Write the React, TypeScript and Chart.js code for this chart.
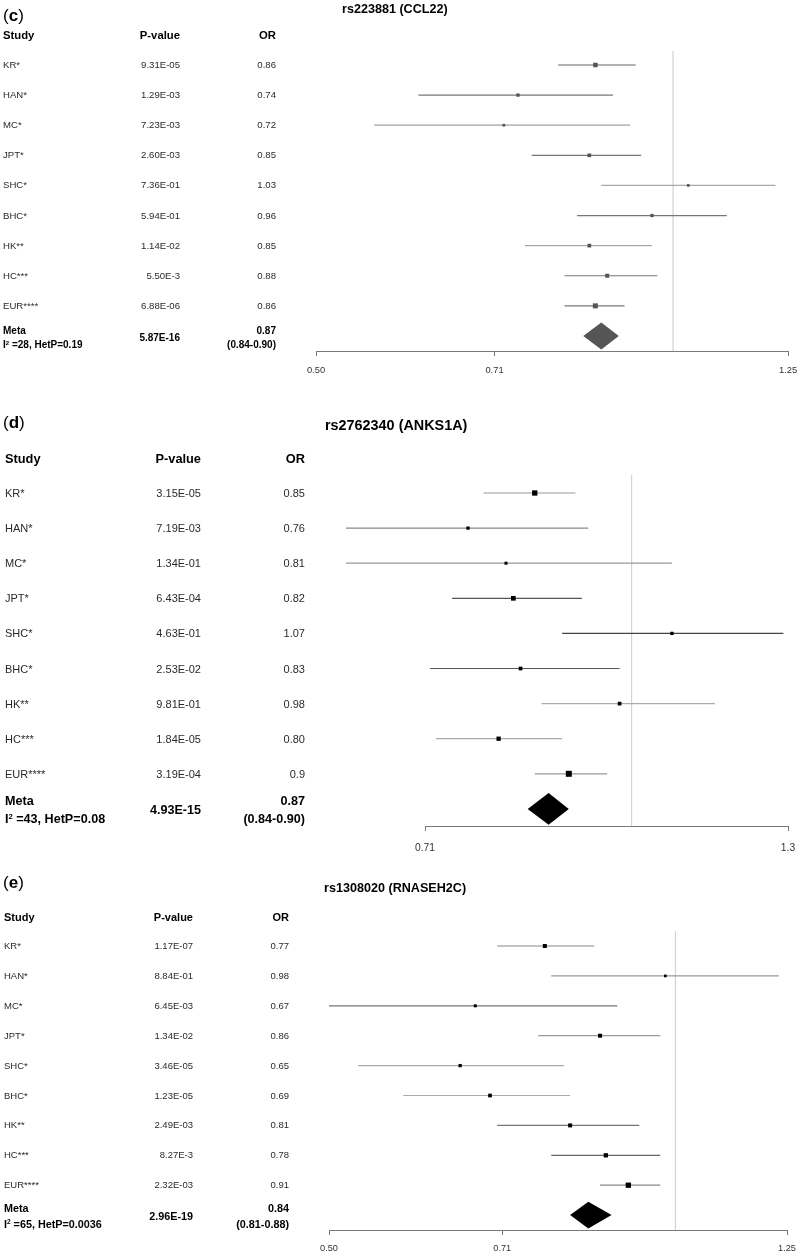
import React, { useEffect, useRef } from "react";
import { Chart, registerables } from "chart.js";

Chart.register(...registerables);

// ---------------- DATA ----------------
const studies = ["KR*", "HAN*", "MC*", "JPT*", "SHC*", "BHC*", "HK**", "HC***", "EUR****"];

// Panel (c) rs223881 (CCL22)
const cTitle = "rs223881 (CCL22)";
const cPValues = ["9.31E-05", "1.29E-03", "7.23E-03", "2.60E-03", "7.36E-01", "5.94E-01", "1.14E-02", "5.50E-3", "6.88E-06"];
const cOrText = ["0.86", "0.74", "0.72", "0.85", "1.03", "0.96", "0.85", "0.88", "0.86"];
const cOr = [0.86, 0.74, 0.72, 0.85, 1.03, 0.96, 0.85, 0.88, 0.86];
const cLower = [0.80, 0.61, 0.56, 0.76, 0.87, 0.83, 0.75, 0.81, 0.81];
const cUpper = [0.93, 0.89, 0.92, 0.94, 1.22, 1.11, 0.96, 0.97, 0.91];
const cMetaCI = [0.84, 0.87, 0.90];
const cMetaP = "5.87E-16";
const cMetaOr = "0.87";
const cMetaCIText = "(0.84-0.90)";
const cI2 = "28";
const cHetP = "0.19";
const cTicks = [0.5, 0.7071, 1.25];
const cTickLabels = ["0.50", "0.71", "1.25"];

// Panel (d) rs2762340 (ANKS1A)
const dTitle = "rs2762340 (ANKS1A)";
const dPValues = ["3.15E-05", "7.19E-03", "1.34E-01", "6.43E-04", "4.63E-01", "2.53E-02", "9.81E-01", "1.84E-05", "3.19E-04"];
const dOrText = ["0.85", "0.76", "0.81", "0.82", "1.07", "0.83", "0.98", "0.80", "0.9"];
const dOr = [0.85, 0.76, 0.81, 0.82, 1.07, 0.83, 0.98, 0.80, 0.90];
const dLower = [0.78, 0.60, 0.60, 0.74, 0.89, 0.713, 0.86, 0.72, 0.85];
const dUpper = [0.91, 0.93, 1.07, 0.92, 1.29, 0.98, 1.15, 0.89, 0.96];
const dMetaCI = [0.84, 0.87, 0.90];
const dMetaP = "4.93E-15";
const dMetaOr = "0.87";
const dMetaCIText = "(0.84-0.90)";
const dI2 = "43";
const dHetP = "0.08";
const dTicks = [0.7071, 1.3];
const dTickLabels = ["0.71", "1.3"];

// Panel (e) rs1308020 (RNASEH2C)
const eTitle = "rs1308020 (RNASEH2C)";
const ePValues = ["1.17E-07", "8.84E-01", "6.45E-03", "1.34E-02", "3.46E-05", "1.23E-05", "2.49E-03", "8.27E-3", "2.32E-03"];
const eOrText = ["0.77", "0.98", "0.67", "0.86", "0.65", "0.69", "0.81", "0.78", "0.91"];
const eOr = [0.77, 0.98, 0.67, 0.86, 0.65, 0.69, 0.81, 0.87, 0.91];
const eLower = [0.70, 0.78, 0.50, 0.76, 0.53, 0.58, 0.70, 0.78, 0.86];
const eUpper = [0.85, 1.23, 0.89, 0.97, 0.80, 0.81, 0.93, 0.97, 0.97];
const eMetaCI = [0.81, 0.84, 0.88];
const eMetaP = "2.96E-19";
const eMetaOr = "0.84";
const eMetaCIText = "(0.81-0.88)";
const eI2 = "65";
const eHetP = "0.0036";
const eTicks = [0.5, 0.7071, 1.25];
const eTickLabels = ["0.50", "0.71", "1.25"];

// ---------------- STYLE / LAYOUT ----------------
const FONT = '"Liberation Sans", Arial, Helvetica, sans-serif';
const PAGE_W = 800;

type Layout = {
  top: number; height: number; plotLeft: number; plotRight: number; plotTop: number; plotBottom: number;
  yMin: number; yMax: number; xMin: number; xMax: number; axisH: number; tickFont: number; tickPad: number;
  labelY: number; titleX: number; titleY: number; titleSize: number; headerY: number;
  studyX: number; pRight: number; orRight: number; rowFont: number; headFont: number;
  metaFont: number; metaY1: number; metaY2: number; metaPY: number;
};

type Style = { point: string; diamond: string; lines: string[]; boxes: number[] };

type Spec = {
  label: string; title: string; pValues: string[]; orText: string[]; or: number[];
  lower: number[]; upper: number[]; metaCI: number[]; metaP: string; metaOr: string; metaCIText: string;
  i2: string; hetP: string; ticks: number[]; tickLabels: string[]; layout: Layout; style: Style;
};

const specs: Spec[] = [
  {
    label: "c", title: cTitle, pValues: cPValues, orText: cOrText, or: cOr, lower: cLower, upper: cUpper,
    metaCI: cMetaCI, metaP: cMetaP, metaOr: cMetaOr, metaCIText: cMetaCIText, i2: cI2, hetP: cHetP,
    ticks: cTicks, tickLabels: cTickLabels,
    layout: {
      top: 0, height: 380, plotLeft: 316, plotRight: 788, plotTop: 51, plotBottom: 351,
      yMin: -0.465, yMax: 9.5, xMin: 0.5, xMax: 1.25, axisH: 26, tickFont: 9.4, tickPad: 9,
      labelY: 14.5, titleX: 342, titleY: 8.5, titleSize: 12.6, headerY: 36,
      studyX: 3, pRight: 180, orRight: 276, rowFont: 9.6, headFont: 11.3,
      metaFont: 10, metaY1: 331, metaY2: 345, metaPY: 338,
    },
    style: {
      point: "#555555", diamond: "#555555",
      lines: ["#666", "#777", "#a0a0a0", "#777", "#a8a8a8", "#777", "#a8a8a8", "#777", "#777"],
      boxes: [4.5, 3.3, 2.7, 3.7, 2.7, 3.3, 3.7, 4, 5],
    },
  },
  {
    label: "d", title: dTitle, pValues: dPValues, orText: dOrText, or: dOr, lower: dLower, upper: dUpper,
    metaCI: dMetaCI, metaP: dMetaP, metaOr: dMetaOr, metaCIText: dMetaCIText, i2: dI2, hetP: dHetP,
    ticks: dTicks, tickLabels: dTickLabels,
    layout: {
      top: 380, height: 478, plotLeft: 346, plotRight: 788, plotTop: 475, plotBottom: 826,
      yMin: -0.513, yMax: 9.487, xMin: 0.6193, xMax: 1.3, axisH: 28, tickFont: 10.3, tickPad: 11,
      labelY: 422, titleX: 325, titleY: 425, titleSize: 14.4, headerY: 459,
      studyX: 5, pRight: 201, orRight: 305, rowFont: 11, headFont: 12.8,
      metaFont: 12.6, metaY1: 801, metaY2: 819, metaPY: 810,
    },
    style: {
      point: "#000000", diamond: "#000000",
      lines: ["#999", "#888", "#999", "#555", "#444", "#555", "#aaa", "#aaa", "#999"],
      boxes: [5.3, 3.3, 3, 4.7, 3.3, 3.7, 3.7, 4.3, 6],
    },
  },
  {
    label: "e", title: eTitle, pValues: ePValues, orText: eOrText, or: eOr, lower: eLower, upper: eUpper,
    metaCI: eMetaCI, metaP: eMetaP, metaOr: eMetaOr, metaCIText: eMetaCIText, i2: eI2, hetP: eHetP,
    ticks: eTicks, tickLabels: eTickLabels,
    layout: {
      top: 858, height: 398, plotLeft: 329, plotRight: 787, plotTop: 931, plotBottom: 1230,
      yMin: -0.502, yMax: 9.498, xMin: 0.5, xMax: 1.25, axisH: 26, tickFont: 9.2, tickPad: 8,
      labelY: 881.5, titleX: 324, titleY: 888, titleSize: 12.6, headerY: 917,
      studyX: 4, pRight: 193, orRight: 289, rowFont: 9.5, headFont: 11,
      metaFont: 10.8, metaY1: 1208, metaY2: 1224, metaPY: 1216,
    },
    style: {
      point: "#000000", diamond: "#000000",
      lines: ["#888", "#999", "#777", "#999", "#aaa", "#aaa", "#777", "#666", "#888"],
      boxes: [4, 2.7, 3, 4, 3.3, 3.7, 4, 4.3, 5.3],
    },
  },
];

const axisLinePlugin = {
  id: "axisLine",
  afterDraw(chart: any) {
    const s = chart.scales.x;
    const t = s.ticks;
    if (!t || !t.length) return;
    const x0 = Math.round(s.getPixelForValue(t[0].value)) + 0.5;
    const x1 = Math.round(s.getPixelForValue(t[t.length - 1].value)) + 0.5;
    const y = Math.round(s.top) + 0.5;
    const ctx = chart.ctx;
    ctx.save();
    ctx.strokeStyle = "#7a7a7a";
    ctx.lineWidth = 1;
    ctx.beginPath();
    ctx.moveTo(x0, y);
    ctx.lineTo(x1, y);
    ctx.stroke();
    ctx.restore();
  },
};

function ForestChart({ spec }: { spec: Spec }) {
  const ref = useRef<HTMLCanvasElement | null>(null);
  const L = spec.layout;
  useEffect(() => {
    if (!ref.current) return;
    const metaRow = spec.or.length;
    const dh = 0.45;
    const [mLo, mMid, mHi] = spec.metaCI;
    const datasets: any[] = [];
    datasets.push({
      data: spec.or.map((v, i) => ({ x: v, y: i })),
      showLine: false,
      pointStyle: "rect",
      pointRadius: spec.style.boxes.map((b) => b / Math.SQRT2),
      pointHoverRadius: spec.style.boxes.map((b) => b / Math.SQRT2),
      pointBackgroundColor: spec.style.point,
      pointBorderWidth: 0,
      borderWidth: 0,
      order: 0,
    });
    datasets.push({
      data: [
        { x: mLo, y: metaRow },
        { x: mMid, y: metaRow - dh },
        { x: mHi, y: metaRow },
        { x: mMid, y: metaRow + dh },
        { x: mLo, y: metaRow },
      ],
      fill: "shape",
      backgroundColor: spec.style.diamond,
      borderColor: "rgba(0,0,0,0)",
      borderWidth: 1,
      pointRadius: 0,
      tension: 0,
      order: 1,
    });
    spec.lower.forEach((lo, i) => {
      datasets.push({
        data: [
          { x: lo, y: i },
          { x: spec.upper[i], y: i },
        ],
        borderColor: spec.style.lines[i],
        borderWidth: 1.2,
        pointRadius: 0,
        fill: false,
        order: 2,
      });
    });
    datasets.push({
      data: [
        { x: 1, y: L.yMin },
        { x: 1, y: L.yMax },
      ],
      borderColor: "#d2d2d2",
      borderWidth: 1.2,
      pointRadius: 0,
      fill: false,
      order: 3,
    });

    const padding = {
      left: L.plotLeft,
      right: PAGE_W - L.plotRight,
      top: L.plotTop - L.top,
      bottom: L.top + L.height - L.plotBottom - L.axisH,
    };
    const options: any = {
      animation: false,
      responsive: false,
      devicePixelRatio: 1,
      events: [],
      layout: { padding },
      plugins: {
        legend: { display: false },
        tooltip: { enabled: false },
        title: { display: false },
      },
      scales: {
        x: {
          type: "logarithmic",
          min: L.xMin,
          max: L.xMax,
          bounds: "data",
          afterBuildTicks: (s: any) => {
            s.ticks = spec.ticks.map((v) => ({ value: v }));
          },
          afterFit: (s: any) => {
            s.height = L.axisH;
            s.paddingLeft = 0;
            s.paddingRight = 0;
          },
          border: { display: false },
          grid: {
            display: true,
            drawOnChartArea: false,
            drawTicks: true,
            tickLength: 5,
            tickColor: "#7a7a7a",
            tickWidth: 1,
          },
          ticks: {
            autoSkip: false,
            maxRotation: 0,
            minRotation: 0,
            padding: L.tickPad,
            color: "#333333",
            font: { family: FONT, size: L.tickFont },
            callback: (_v: any, i: number) => spec.tickLabels[i],
          },
        },
        y: {
          type: "linear",
          display: false,
          min: L.yMin,
          max: L.yMax,
          reverse: true,
        },
      },
    };

    const chart = new Chart(ref.current, {
      type: "line",
      data: { datasets },
      options,
      plugins: [axisLinePlugin],
    });

    // make the plot area land exactly where the layout asks for it
    for (let k = 0; k < 4; k++) {
      const sx: any = chart.scales.x;
      const sy: any = chart.scales.y;
      const dl = sx.getPixelForValue(L.xMin) - L.plotLeft;
      const dr = sx.getPixelForValue(L.xMax) - L.plotRight;
      const dt = sy.getPixelForValue(L.yMin) - (L.plotTop - L.top);
      const db = sy.getPixelForValue(L.yMax) - (L.plotBottom - L.top);
      if (Math.abs(dl) < 0.3 && Math.abs(dr) < 0.3 && Math.abs(dt) < 0.3 && Math.abs(db) < 0.3) break;
      padding.left -= dl;
      padding.right += dr;
      padding.top -= dt;
      padding.bottom += db;
      chart.update();
    }
    return () => chart.destroy();
  }, [spec]);

  return (
    <canvas
      ref={ref}
      width={PAGE_W}
      height={L.height}
      style={{ position: "absolute", left: 0, top: L.top, width: PAGE_W, height: L.height }}
    />
  );
}

function Txt(props: {
  x: number; y: number; size: number; bold?: boolean; right?: boolean; color?: string; children: any;
}) {
  const { x, y, size, bold, right, color, children } = props;
  const style: any = {
    position: "absolute",
    top: y,
    transform: "translateY(-50%)",
    fontFamily: FONT,
    fontSize: size,
    fontWeight: bold ? "bold" : "normal",
    lineHeight: 1,
    whiteSpace: "nowrap",
    color: color || (bold ? "#000" : "#2a2a2a"),
  };
  if (right) {
    style.right = PAGE_W - x;
    style.textAlign = "right";
  } else {
    style.left = x;
  }
  return <div style={style}>{children}</div>;
}

function PanelText({ spec }: { spec: Spec }) {
  const L = spec.layout;
  const rowY = (i: number) => L.plotTop + ((i - L.yMin) / (L.yMax - L.yMin)) * (L.plotBottom - L.plotTop);
  const sup = { fontSize: "0.6em", position: "relative" as const, top: "-0.55em" };
  return (
    <>
      <Txt x={3} y={L.labelY} size={17} color="#000">
        (<b>{spec.label}</b>)
      </Txt>
      <Txt x={L.titleX} y={L.titleY} size={L.titleSize} bold>
        {spec.title}
      </Txt>
      <Txt x={L.studyX} y={L.headerY} size={L.headFont} bold>
        Study
      </Txt>
      <Txt x={L.pRight} y={L.headerY} size={L.headFont} bold right>
        P-value
      </Txt>
      <Txt x={L.orRight} y={L.headerY} size={L.headFont} bold right>
        OR
      </Txt>
      {studies.map((s, i) => (
        <React.Fragment key={s}>
          <Txt x={L.studyX} y={rowY(i)} size={L.rowFont}>
            {s}
          </Txt>
          <Txt x={L.pRight} y={rowY(i)} size={L.rowFont} right>
            {spec.pValues[i]}
          </Txt>
          <Txt x={L.orRight} y={rowY(i)} size={L.rowFont} right>
            {spec.orText[i]}
          </Txt>
        </React.Fragment>
      ))}
      <Txt x={L.studyX} y={L.metaY1} size={L.metaFont} bold>
        Meta
      </Txt>
      <Txt x={L.studyX} y={L.metaY2} size={L.metaFont} bold>
        I<span style={sup}>2</span> ={spec.i2}, HetP={spec.hetP}
      </Txt>
      <Txt x={L.pRight} y={L.metaPY} size={L.metaFont} bold right>
        {spec.metaP}
      </Txt>
      <Txt x={L.orRight} y={L.metaY1} size={L.metaFont} bold right>
        {spec.metaOr}
      </Txt>
      <Txt x={L.orRight} y={L.metaY2} size={L.metaFont} bold right>
        {spec.metaCIText}
      </Txt>
    </>
  );
}

export default function App() {
  return (
    <div
      style={{
        position: "absolute",
        left: 0,
        top: 0,
        width: PAGE_W,
        height: 1256,
        background: "#ffffff",
        overflow: "hidden",
      }}
    >
      {specs.map((s) => (
        <React.Fragment key={s.label}>
          <ForestChart spec={s} />
          <PanelText spec={s} />
        </React.Fragment>
      ))}
    </div>
  );
}
